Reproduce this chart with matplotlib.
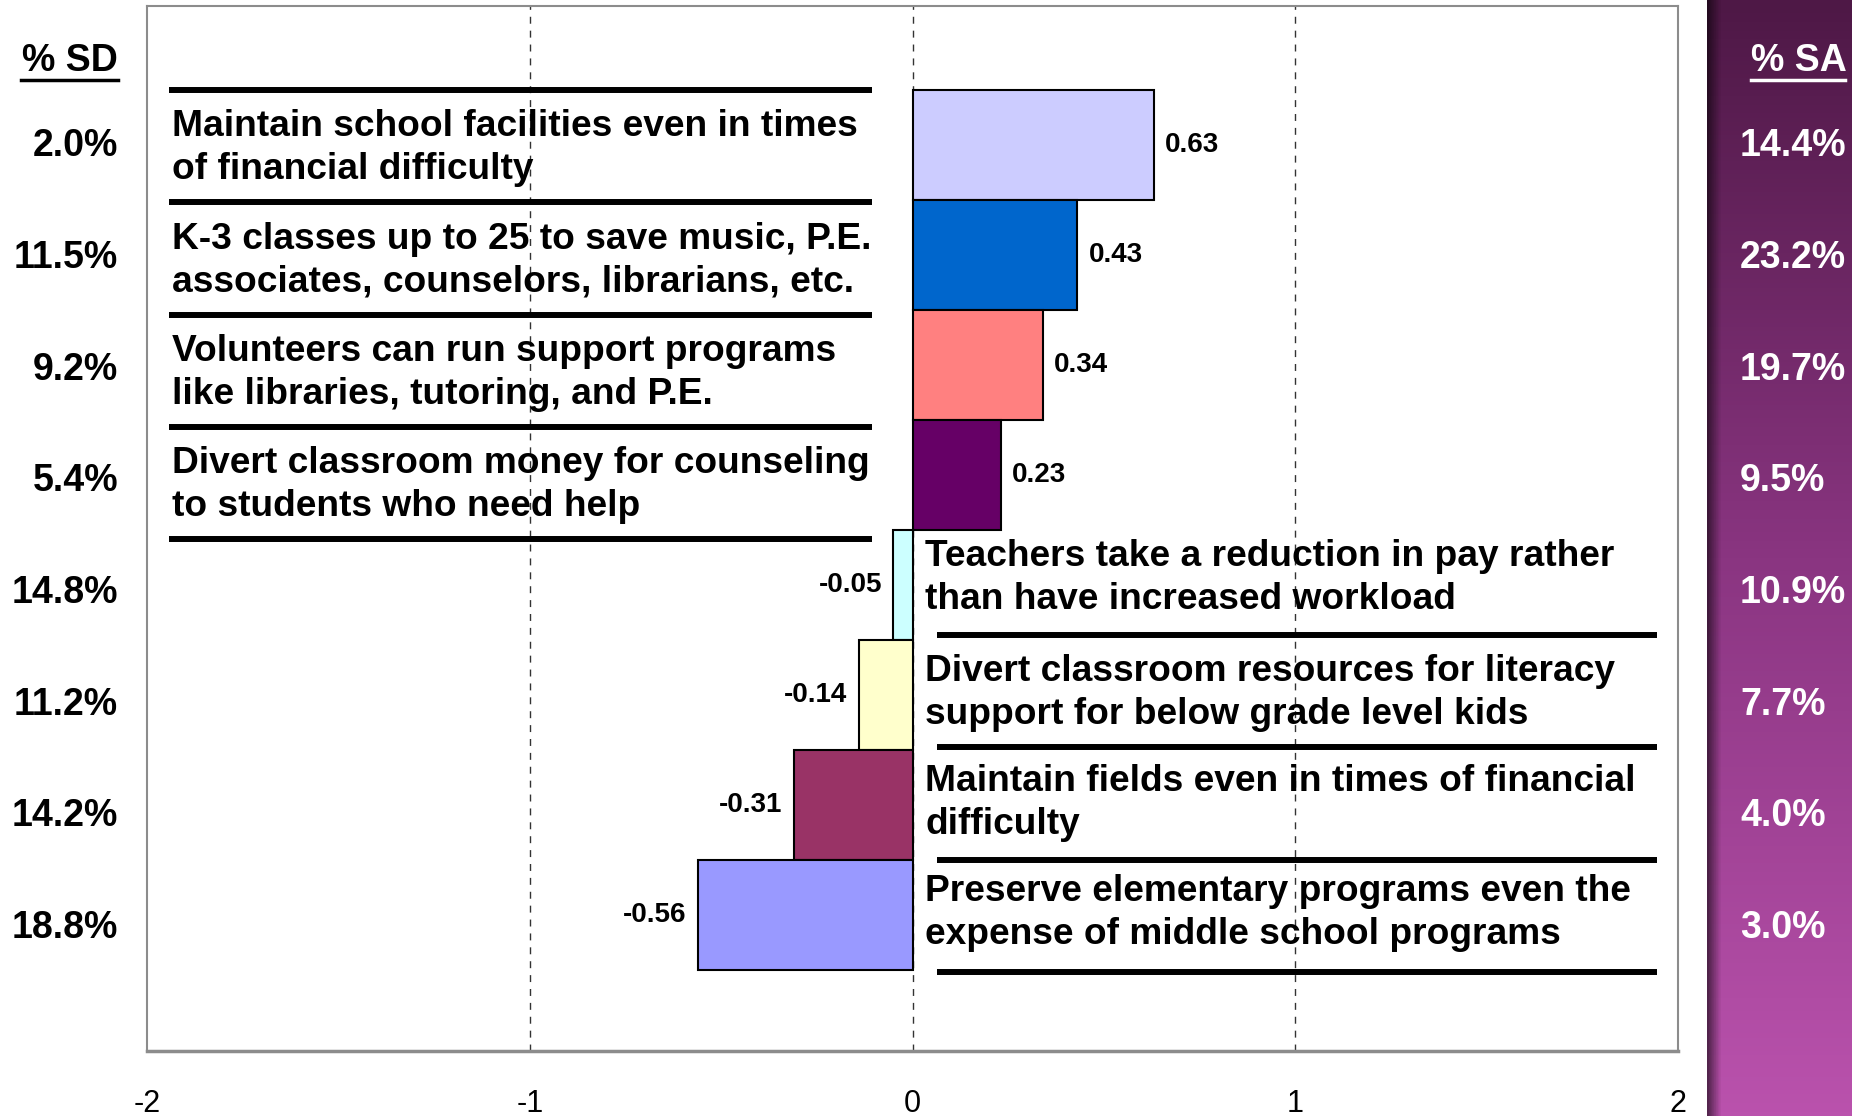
"""
Mean agreement scores for budget statements, with % SD / % SA columns.
"""

import numpy as np
import matplotlib.pyplot as plt
import matplotlib.transforms as mtransforms
from matplotlib.colors import LinearSegmentedColormap
from matplotlib.lines import Line2D

plt.rcParams['font.family'] = ['Liberation Sans', 'DejaVu Sans']
plt.rcParams['axes.unicode_minus'] = False

statements = [
    "Maintain school facilities even in times\nof financial difficulty",
    "K-3 classes up to 25 to save music, P.E.\nassociates, counselors, librarians, etc.",
    "Volunteers can run support programs\nlike libraries, tutoring, and P.E.",
    "Divert classroom money for counseling\nto students who need help",
    "Teachers take a reduction in pay rather\nthan have increased workload",
    "Divert classroom resources for literacy\nsupport for below grade level kids",
    "Maintain fields even in times of financial\ndifficulty",
    "Preserve elementary programs even the\nexpense of middle school programs",
]
mean_scores = [0.63, 0.43, 0.34, 0.23, -0.05, -0.14, -0.31, -0.56]
pct_sd = [2.0, 11.5, 9.2, 5.4, 14.8, 11.2, 14.2, 18.8]
pct_sa = [14.4, 23.2, 19.7, 9.5, 10.9, 7.7, 4.0, 3.0]
bar_colors = ["#ccccff", "#0066cc", "#ff8080", "#660066",
              "#ccffff", "#ffffcc", "#993366", "#9999ff"]
x_ticks = [-2, -1, 0, 1, 2]


def draw_strip(fig):
    # purple gradient band on the right edge
    sax = fig.add_axes([0.9217, 0.0, 0.0783, 1.0])
    cmap = LinearSegmentedColormap.from_list("band", ["#4e1846", "#8a3581", "#ba52ad"])
    grad = np.linspace(0, 1, 256).reshape(-1, 1)
    sax.imshow(grad, cmap=cmap, aspect="auto", extent=(0, 1, 0, 1))
    shadow = np.zeros((1, 64, 4))
    shadow[0, :, 3] = np.clip(0.55 - np.linspace(0, 1, 64) * 6, 0, 1)
    sax.imshow(shadow, aspect="auto", extent=(0, 1, 0, 1))
    sax.set_xlim(0, 1)
    sax.set_ylim(0, 1)
    sax.axis("off")


def main():
    fig = plt.figure(figsize=(18.52, 11.16), dpi=100)
    draw_strip(fig)

    ax = fig.add_axes([0.0794, 0.0582, 0.8267, 0.9364])
    ypos = np.arange(len(mean_scores))
    ax.barh(ypos, mean_scores, height=1.0, color=bar_colors,
            edgecolor="black", linewidth=1.5, zorder=3)
    ax.set_xlim(-2, 2)
    ax.set_ylim(8.236, -1.264)
    ax.set_yticks([])
    ax.set_xticks(x_ticks)
    ax.set_xticklabels([str(t) for t in x_ticks])
    ax.tick_params(axis="x", length=0, pad=27, labelsize=22)
    for s in ax.spines.values():
        s.set_color("#8c8c8c")
        s.set_linewidth(1.5)
    ax.spines["bottom"].set_linewidth(2.5)
    for gx in [-1, 0, 1]:
        ax.axvline(gx, color="#333333", lw=1, ls=(0, (5, 5)), zorder=1)

    # value labels
    for i, v in enumerate(mean_scores):
        if v >= 0:
            ax.text(v + 0.03, i, f"{v:.2f}", ha="left", va="center",
                    fontsize=20, fontweight="bold", zorder=5)
        else:
            ax.text(v - 0.03, i, f"{v:.2f}", ha="right", va="center",
                    fontsize=20, fontweight="bold", zorder=5)

    # statement text with separator rules
    pitch = 1.021
    k = 0
    for i, (txt, v) in enumerate(zip(statements, mean_scores)):
        if v >= 0:
            top = -0.5 + k * pitch
            ax.plot([-1.943, -0.106], [top, top], color="black", lw=4.3,
                    solid_capstyle="butt", zorder=4)
            ax.text(-1.935, top + pitch / 2 + 0.02, txt, ha="left",
                    va="center", fontsize=26.7, fontweight="bold",
                    linespacing=1.3, zorder=5)
            k += 1
            if i + 1 < len(mean_scores) and mean_scores[i + 1] < 0:
                bot = -0.5 + k * pitch
                ax.plot([-1.943, -0.106], [bot, bot], color="black", lw=4.3,
                        solid_capstyle="butt", zorder=4)
                first_neg = i + 1
        else:
            j = i - first_neg
            ax.text(0.033, i - (0.065 if j == 0 else 0.02), txt, ha="left",
                    va="center", fontsize=26.7, fontweight="bold",
                    linespacing=1.3, zorder=5)
            yl = first_neg + 0.455 + j * pitch
            ax.plot([0.063, 1.946], [yl, yl], color="black", lw=4.3,
                    solid_capstyle="butt", zorder=4)

    # % SD and % SA columns
    trans = mtransforms.blended_transform_factory(fig.transFigure, ax.transData)
    col_pitch = 1.015
    for i in range(len(mean_scores)):
        yc = 0.012 + i * col_pitch
        fig.text(0.0637, yc, f"{pct_sd[i]:.1f}%", ha="right", va="center",
                 fontsize=27, fontweight="bold", transform=trans)
        fig.text(0.9395, yc, f"{pct_sa[i]:.1f}%", ha="left", va="center",
                 fontsize=27, fontweight="bold", color="white", transform=trans)

    fig.text(0.0637, 0.9453, "% SD", ha="right", va="center",
             fontsize=27, fontweight="bold")
    fig.add_artist(Line2D([0.0113, 0.0637], [0.928, 0.928],
                          transform=fig.transFigure, color="black", lw=2.5))
    fig.text(0.9455, 0.9453, "% SA", ha="left", va="center",
             fontsize=27, fontweight="bold", color="white")
    fig.add_artist(Line2D([0.9455, 0.9962], [0.928, 0.928],
                          transform=fig.transFigure, color="white", lw=2.5))

    fig.savefig("out.png", dpi=100)


if __name__ == "__main__":
    main()
